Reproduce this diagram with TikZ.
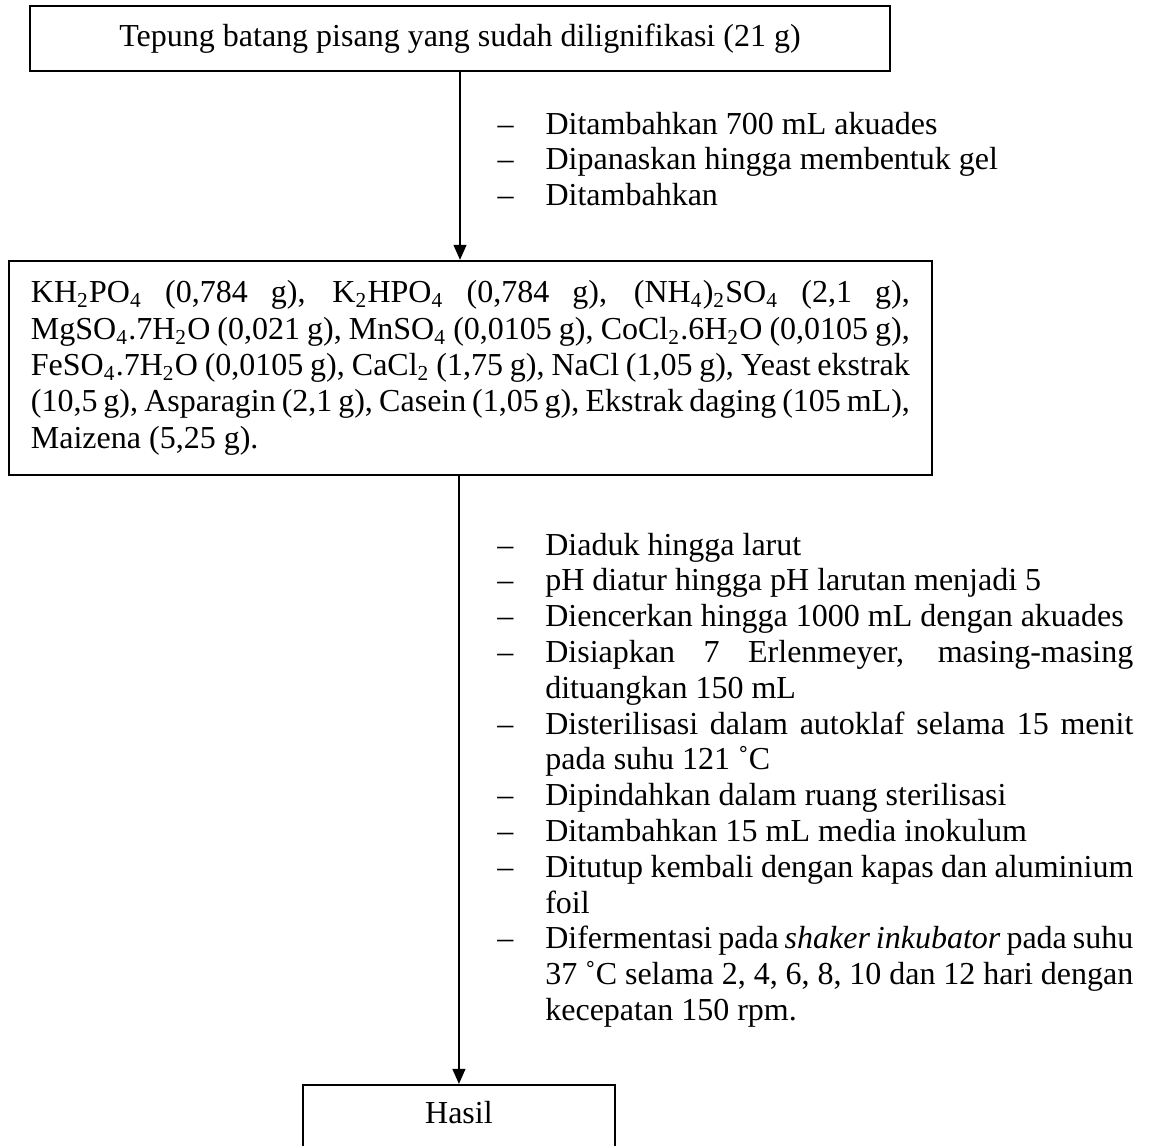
\documentclass[tikz,border=0pt]{standalone}
\usepackage{fontspec}
\setmainfont{Liberation Serif}
\usetikzlibrary{arrows.meta,positioning}
\hyphenpenalty=10000
\exhyphenpenalty=10000
\newcommand{\stepline}[1]{\par\hangindent=18pt\hangafter=1\noindent\hbox to 18pt{–\hfil}#1\par}
\tikzset{
  font=\fontsize{12pt}{13.6pt}\selectfont,
  procbox/.style={draw,line width=0.7pt,inner sep=0pt,align=center},
  steplist/.style={inner sep=0pt,text width=238.5pt,align=justify,anchor=north west,
                   font=\fontsize{12pt}{13.42pt}\selectfont},
  flow/.style={-{Triangle[length=5.6pt,width=4.8pt]},line width=0.6pt},
}

\begin{document}
\begin{tikzpicture}
  \useasboundingbox (-172.5pt,14.4pt) rectangle (260.25pt,-415.3pt);
  \node[procbox,minimum width=322.5pt,minimum height=24.4pt] (start) at (0,0)
    {Tepung batang pisang yang sudah dilignifikasi (21 g)};
  \node[procbox,below=70.5pt of start,xshift=3.9pt,inner xsep=8.25pt,inner ysep=7.5pt,
    text width=329.6pt,align=justify] (media)
    {KH\textsubscript{2}PO\textsubscript{4} (0,784 g), K\textsubscript{2}HPO\textsubscript{4} (0,784 g), (NH\textsubscript{4})\textsubscript{2}SO\textsubscript{4} (2,1 g), \linebreak
    MgSO\textsubscript{4}.7H\textsubscript{2}O (0,021 g), MnSO\textsubscript{4} (0,0105 g), CoCl\textsubscript{2}.6H\textsubscript{2}O (0,0105 g), \linebreak
    FeSO\textsubscript{4}.7H\textsubscript{2}O (0,0105 g), CaCl\textsubscript{2} (1,75 g), NaCl (1,05 g), Yeast ekstrak \linebreak
    (10,5 g), Asparagin (2,1 g), Casein (1,05 g), Ekstrak daging (105 mL), \linebreak
    Maizena (5,25 g).};
  \node[procbox,below=228pt of media,xshift=-4.3pt,minimum width=117pt,inner ysep=0pt,
    text height=14.6pt,text depth=16pt] (hasil) {Hasil};

  \node[steplist,below right=9.75pt and 13.9pt of start.south] (prep)
    {\stepline{Ditambahkan 700 mL akuades}
     \stepline{Dipanaskan hingga membentuk gel}
     \stepline{Ditambahkan}};
  \node[steplist,below right=16.1pt and 9.9pt of media.south] (proc)
    {\stepline{Diaduk hingga larut}
     \stepline{pH diatur hingga pH larutan menjadi 5}
     \stepline{Diencerkan hingga 1000 mL dengan akuades}
     \stepline{Disiapkan 7 Erlenmeyer, masing-masing \linebreak dituangkan 150 mL}
     \stepline{Disterilisasi dalam autoklaf selama 15 menit \linebreak pada suhu 121 ˚C}
     \stepline{Dipindahkan dalam ruang sterilisasi}
     \stepline{Ditambahkan 15 mL media inokulum}
     \stepline{Ditutup kembali dengan kapas dan aluminium \linebreak foil}
     \stepline{Difermentasi pada \textit{shaker inkubator} pada suhu \linebreak 37 ˚C selama 2, 4, 6, 8, 10 dan 12 hari dengan \linebreak kecepatan 150 rpm.}};

  \draw[flow] (start.south) -- (start.south |- media.north);
  \draw[flow] (hasil.north |- media.south) -- (hasil.north);
\end{tikzpicture}
\end{document}
